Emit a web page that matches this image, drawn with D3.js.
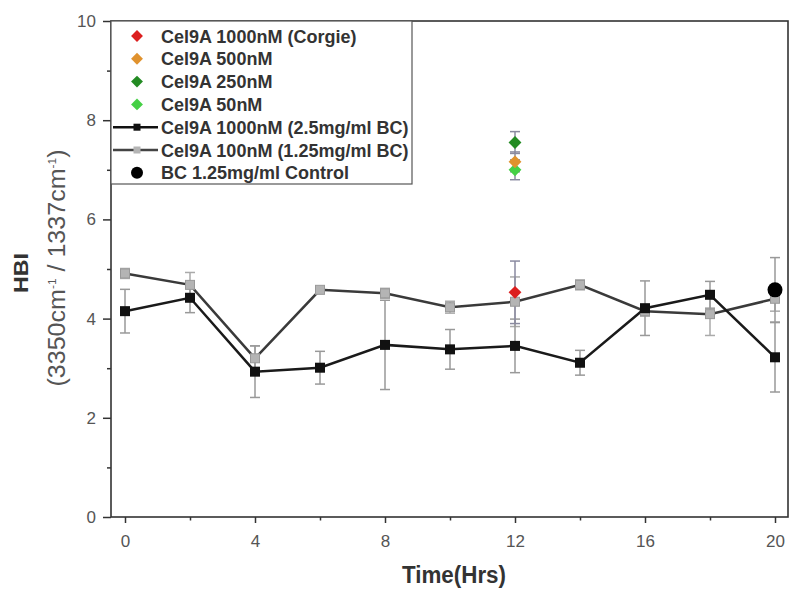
<!DOCTYPE html>
<html><head><meta charset="utf-8">
<script src="https://cdn.jsdelivr.net/npm/d3@7"></script>
<style>body{margin:0;background:#fff}</style>
</head><body><svg id="c" width="789" height="589"></svg>
<script>
const times = [0,2,4,6,8,10,12,14,16,18,20];
const s1000 = [4.15,4.42,2.93,3.01,3.47,3.38,3.45,3.11,4.21,4.48,3.22];
const s1000Err = [0.44,0.30,0.52,0.33,0.90,0.40,0.54,0.25,0.55,0.27,0.70];
const s100 = [4.91,4.68,3.20,4.58,4.51,4.23,4.34,4.68,4.15,4.09,4.40];
const s100Err = [0.10,0.25,0.25,0.06,0.10,0.12,0.50,0.10,0.10,0.43,0.25];
const diaNames = ["Cel9A 1000nM (Corgie)","Cel9A 500nM","Cel9A 250nM","Cel9A 50nM"];
const diaColors = ["#dc1f1f","#e0922e","#238b23","#45d045"];
const diaTime = [12,12,12,12];
const diaVals = [4.53,7.16,7.55,7.00];
const diaErr = [0.63,0.20,0.22,0.20];
const ctrlTime = [20];
const ctrlVal = [4.58];
const ctrlErr = [0.65];
const xTicks = [0,4,8,12,16,20];
const yTicks = [0,2,4,6,8,10];
const lineNames = ["Cel9A 1000nM (2.5mg/ml BC)","Cel9A 100nM (1.25mg/ml BC)","BC 1.25mg/ml Control"];

const FONT = "Liberation Sans, Arial, sans-serif";
const svg = d3.select("#c");
const L=111,R=788,T=21,B=517;
const x = d3.scaleLinear().domain([0,20]).range([125,775]);
const y = d3.scaleLinear().domain([0,10]).range([B,T]);

// frame
svg.append("rect").attr("x",L).attr("y",T).attr("width",R-L).attr("height",B-T)
  .attr("fill","none").attr("stroke","#333").attr("stroke-width",1.6);

// axes
const xa = svg.append("g").attr("transform",`translate(0,${B})`)
  .call(d3.axisBottom(x).tickValues(xTicks).tickSize(6).tickPadding(12).tickFormat(d3.format("d")));
const xm = svg.append("g").attr("transform",`translate(0,${B})`)
  .call(d3.axisBottom(x).tickValues(d3.range(2,20,4)).tickSize(3.5).tickFormat(""));
const ya = svg.append("g").attr("transform",`translate(${L},0)`)
  .call(d3.axisLeft(y).tickValues(yTicks).tickSize(8).tickPadding(7).tickFormat(d3.format("d")));
const ym = svg.append("g").attr("transform",`translate(${L},0)`)
  .call(d3.axisLeft(y).tickValues(d3.range(1,10,2)).tickSize(4).tickFormat(""));
[xa,xm,ya,ym].forEach(g=>{
  g.select(".domain").remove();
  g.selectAll("line").attr("stroke","#333").attr("stroke-width",1.5);
  g.selectAll("text").attr("fill","#555").style("font-family",FONT).style("font-size","17px");
});

// labels
svg.append("text").attr("x",454).attr("y",583).attr("text-anchor","middle")
  .style("font-family",FONT).style("font-size","23px").style("font-weight","bold")
  .attr("fill","#333").attr("textLength",104).attr("lengthAdjust","spacingAndGlyphs").text("Time(Hrs)");
svg.append("text").attr("transform","translate(28,273) rotate(-90)").attr("text-anchor","middle")
  .style("font-family",FONT).style("font-size","21px").style("font-weight","bold")
  .attr("fill","#333").attr("textLength",40).attr("lengthAdjust","spacingAndGlyphs").text("HBI");
const sub = svg.append("text").attr("transform","translate(65,268) rotate(-90)").attr("text-anchor","middle")
  .style("font-family",FONT).style("font-size","23px").attr("fill","#555")
  .attr("textLength",237).attr("lengthAdjust","spacingAndGlyphs");
sub.append("tspan").text("(3350cm");
sub.append("tspan").attr("dy",-9).style("font-size","11px").text("-1");
sub.append("tspan").attr("dy",9).text(" / 1337cm");
sub.append("tspan").attr("dy",-9).style("font-size","11px").text("-1");
sub.append("tspan").attr("dy",9).text(")");

// error bar helper
function errBars(xs, vs, es, color){
  const g = svg.append("g").attr("stroke",color).attr("stroke-width",1.5);
  xs.forEach((t,i)=>{
    const cx=x(t), y0=y(vs[i]-es[i]), y1=y(vs[i]+es[i]);
    g.append("line").attr("x1",cx).attr("x2",cx).attr("y1",y0).attr("y2",y1);
    g.append("line").attr("x1",cx-5).attr("x2",cx+5).attr("y1",y0).attr("y2",y0);
    g.append("line").attr("x1",cx-5).attr("x2",cx+5).attr("y1",y1).attr("y2",y1);
  });
}
errBars(times,s100,s100Err,"#aaa");
errBars(times,s1000,s1000Err,"#999");
errBars(ctrlTime,ctrlVal,ctrlErr,"#999");
errBars(diaTime,diaVals,diaErr,"#8a8aa0");

const line = d3.line().x((d,i)=>x(times[i])).y(d=>y(d));
svg.append("path").datum(s100).attr("d",line).attr("fill","none").attr("stroke","#3a3a3a").attr("stroke-width",2.5);
svg.append("path").datum(s1000).attr("d",line).attr("fill","none").attr("stroke","#1a1a1a").attr("stroke-width",2.5);

svg.append("g").selectAll("rect").data(s100).join("rect")
  .attr("x",(d,i)=>x(times[i])-4.5).attr("y",d=>y(d)-4.5).attr("width",9).attr("height",9)
  .attr("fill","#b4b4b4").attr("stroke","#999").attr("stroke-width",1);
svg.append("g").selectAll("rect").data(s1000).join("rect")
  .attr("x",(d,i)=>x(times[i])-5).attr("y",d=>y(d)-5).attr("width",10).attr("height",10)
  .attr("fill","#111");

// diamonds (draw order: light green, dark green, orange, red)
const sym = d3.symbol().type(d3.symbolDiamond2).size(105);
const symL = d3.symbol().type(d3.symbolDiamond2).size(90);
[3,2,1,0].forEach(i=>{
  svg.append("path").attr("d",sym).attr("transform",`translate(${x(diaTime[i])},${y(diaVals[i])})`)
    .attr("fill",diaColors[i]);
});
// control circle
svg.append("circle").attr("cx",x(ctrlTime[0])).attr("cy",y(ctrlVal[0])).attr("r",7.5).attr("fill","#000");

// legend
const lg = svg.append("g");
lg.append("rect").attr("x",L).attr("y",T).attr("width",301).attr("height",163)
  .attr("fill","#fff").attr("stroke","#555").attr("stroke-width",1.2);
const ry = d=>36+d*22.8;
const font = t=>t.style("font-family",FONT).style("font-size","18px").style("font-weight","bold").attr("fill","#333");
diaNames.forEach((n,i)=>{
  lg.append("path").attr("d",symL).attr("transform",`translate(137,${ry(i)})`).attr("fill",diaColors[i]);
  font(lg.append("text").attr("x",161).attr("y",ry(i)+6.5).text(n));
});
lg.append("line").attr("x1",113).attr("x2",158).attr("y1",ry(4)).attr("y2",ry(4)).attr("stroke","#111").attr("stroke-width",2.5);
lg.append("rect").attr("x",133.5).attr("y",ry(4)-3.5).attr("width",7).attr("height",7).attr("fill","#111");
font(lg.append("text").attr("x",161).attr("y",ry(4)+6.5).text(lineNames[0]));
lg.append("line").attr("x1",113).attr("x2",158).attr("y1",ry(5)).attr("y2",ry(5)).attr("stroke","#444").attr("stroke-width",2.5);
lg.append("rect").attr("x",133.5).attr("y",ry(5)-3.5).attr("width",7).attr("height",7).attr("fill","#b4b4b4");
font(lg.append("text").attr("x",161).attr("y",ry(5)+6.5).text(lineNames[1]));
lg.append("circle").attr("cx",137).attr("cy",ry(6)).attr("r",6).attr("fill","#000");
font(lg.append("text").attr("x",161).attr("y",ry(6)+6.5).text(lineNames[2]));
</script></body></html>
